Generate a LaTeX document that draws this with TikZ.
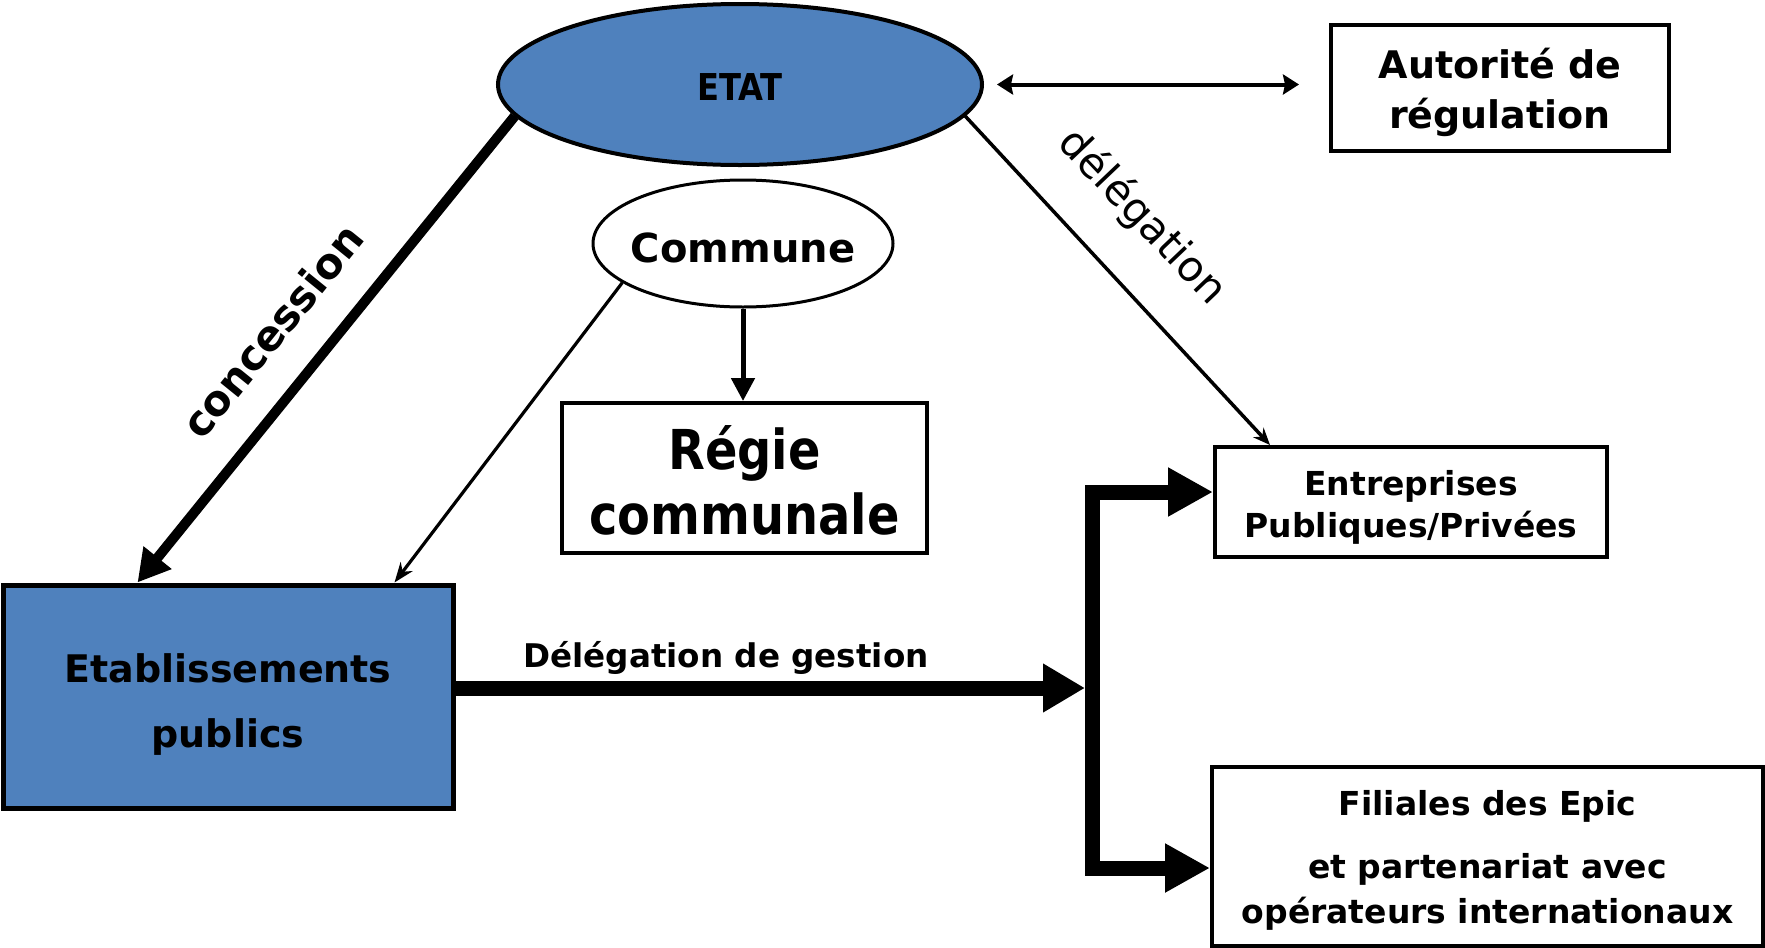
\documentclass[tikz,border=0pt]{standalone}
\usepackage{fontspec}
\setmainfont{DejaVu Sans}
\newfontfamily\narrowfont{DejaVu Sans}[FakeStretch=0.87]
\usetikzlibrary{arrows.meta,shapes.geometric,calc}
\definecolor{blu}{HTML}{4F81BD}
\newcommand{\tstr}[1]{\rule{0pt}{#1pt}}
\newcommand{\bstr}[1]{\rule[-#1pt]{0pt}{0pt}}
\newcommand{\tightlines}{\lineskiplimit=-60pt\relax}
\begin{document}
\begin{tikzpicture}[x=1pt,y=-1pt,
  box/.style={draw, rectangle, line width=4pt, inner sep=0pt, align=center},
  ell/.style={draw, ellipse, inner sep=0pt, align=center},
  thinarr/.style={line width=3.2pt, -{Stealth[length=20pt,width=15pt]}},
]
\useasboundingbox (0,0) rectangle (1765,948);

% nodes
\node[ell, line width=4pt, fill=blu, minimum width=484pt, minimum height=161pt,
      font=\narrowfont\fontsize{37}{40}\selectfont\bfseries] (etat) at (740,84.5) {\tstr{41}ETAT\bstr{10}};
\node[box, minimum width=338pt, minimum height=126pt,
      font=\fontsize{38}{50}\selectfont\bfseries] (aut) at (1500,88) {\tstr{45}Autorité de\\régulation\bstr{15}};
\node[ell, line width=3pt, minimum width=300pt, minimum height=127pt,
      font=\fontsize{40}{48}\selectfont\bfseries] (commune) at (743,243.5) {\makebox[0pt]{Commune}\tstr{49}\bstr{12}};
\node[box, minimum width=365pt, minimum height=150pt,
      font=\narrowfont\fontsize{55}{65}\selectfont\tightlines\bfseries] (regie) at (744.5,478) {\tstr{62}Régie\\communale\bstr{15}};
\node[box, line width=5pt, fill=blu, minimum width=450pt, minimum height=223pt,
      font=\fontsize{38}{65}\selectfont\bfseries] (etab) at (228,696.5) {\tstr{51}Etablissements\\publics\bstr{15}};
\node[box, minimum width=392pt, minimum height=110pt,
      font=\fontsize{33}{42}\selectfont\bfseries] (entr) at (1411,502) {\tstr{40}Entreprises\\Publiques/Privées\bstr{12}};
\node[box, minimum width=551pt, minimum height=179pt,
      font=\fontsize{33}{45}\selectfont\bfseries] (fil) at (1487.5,856.5) {\tstr{37}Filiales des Epic\\[18pt]et partenariat avec\\opérateurs internationaux\bstr{12}};

% edge labels
\node[font=\fontsize{42}{48}\selectfont\bfseries, rotate=51] (lconc) at (272,331) {concession};
\node[font=\fontsize{42}{50}\selectfont, rotate=-46.4] (ldel) at (1142,217) {délégation};
\node[font=\fontsize{32.6}{40}\selectfont\bfseries, anchor=base] (lgest) at (726,667) {Délégation de gestion};

% junction coordinates
\coordinate (jmid) at (1085,688);
\coordinate (jtop) at (1092.5,492);
\coordinate (jbot) at (1092.5,868);

% connectors
\draw[line width=10pt, -{Triangle[length=32pt,width=34pt]}] (etat.188) -- ([xshift=137pt]etab.north west);
\draw[thinarr] (commune.198) -- ([xshift=394pt]etab.north west);
\draw[line width=3.5pt, -{Stealth[length=17pt,width=14pt]}] (etat.-8) -- ([xshift=57pt]entr.north west);
\draw[line width=5pt, -{Triangle[length=23pt,width=23pt]}] (commune.south) -- (commune.south |- regie.north);
\draw[line width=4pt, {Stealth[length=16pt,width=20pt,inset=2pt]}-{Stealth[length=16pt,width=20pt,inset=2pt]},
      shorten <=13pt, shorten >=30pt] (etat.east) -- (etat.east -| aut.west);
\draw[line width=15pt, -{Triangle[length=42pt,width=46pt]}] ([yshift=8.5pt]etab.east) -- (jmid);
\draw[line width=15pt, {Triangle[length=45pt,width=46pt]}-{Triangle[length=45pt,width=46pt]}]
      (jtop -| entr.west) -- (jtop) -- (jbot) -- (jbot -| fil.west);
\end{tikzpicture}
\end{document}
